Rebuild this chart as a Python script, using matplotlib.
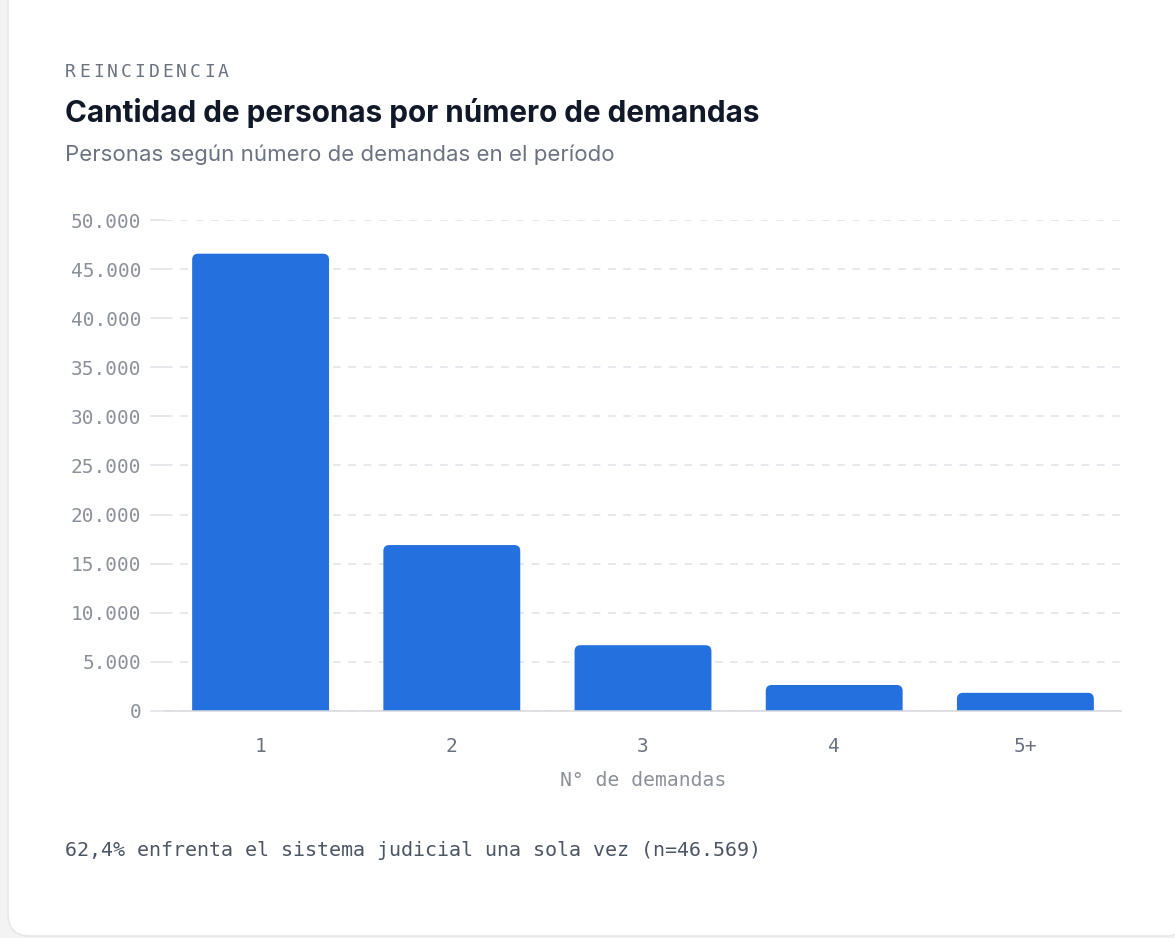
import matplotlib.pyplot as plt
from matplotlib.patches import FancyBboxPatch

# Data
categories = ['1', '2', '3', '4', '5+']
personas = [46569, 16900, 6700, 2650, 1850]
y_ticks = list(range(0, 50001, 5000))

eyebrow = 'REINCIDENCIA'
title = 'Cantidad de personas por número de demandas'
subtitle = 'Personas según número de demandas en el período'
x_label = 'N° de demandas'
footer = '62,4% enfrenta el sistema judicial una sola vez (n=46.569)'

W, H = 1175, 938
DPI = 100
BAR_COLOR = '#2570df'
MONO = 'DejaVu Sans Mono'
SANS = ['Inter', 'DejaVu Sans']

fig = plt.figure(figsize=(W / DPI, H / DPI), dpi=DPI)
fig.patch.set_facecolor('#f3f3f4')


def px(x, y):
    # pixel coords (top-left origin) -> figure fraction
    return x / W, 1 - y / H


def spaced_text(x, y, s, step, **kw):
    # monospace text with letter spacing, one char at a time
    for i, ch in enumerate(s):
        fx, fy = px(x + i * step, y)
        fig.text(fx, fy, ch, ha='left', **kw)


# Card (behind the axes)
card = FancyBboxPatch((8 / DPI, 2 / DPI), 1180 / DPI, 980 / DPI,
                      boxstyle='round,pad=0,rounding_size=0.22',
                      transform=fig.dpi_scale_trans,
                      facecolor='white', edgecolor='#e6e7ea', linewidth=1.2,
                      zorder=-10)
fig.patches.append(card)

# Header texts
spaced_text(65, 77, eyebrow, 13.9, fontsize=13, family=MONO,
            color='#6b7280', va='baseline')
fig.text(*px(65, 122), title, fontsize=21.4, fontweight='bold', family=SANS,
         color='#111827', va='baseline')
fig.text(*px(65, 161), subtitle, fontsize=16, family=SANS,
         color='#6b7280', va='baseline')

# Axes
left, right, top, bottom = 165, 1121, 220, 711
ax = fig.add_axes([left / W, 1 - bottom / H, (right - left) / W, (bottom - top) / H])
ax.set_facecolor('none')
n = len(categories)
ax.set_xlim(-0.5, n - 0.5)
ax.set_ylim(0, 50000)

# rounded-top bars
bar_w = 0.716
x_unit = (right - left) / n          # px per category
y_unit = (bottom - top) / 50000      # px per person
r_px = 6
for i, v in enumerate(personas):
    x0 = i - bar_w / 2
    ext = 1500
    patch = FancyBboxPatch((x0, -ext), bar_w, v + ext,
                           boxstyle='round,pad=0,rounding_size=%f' % (r_px / x_unit),
                           mutation_aspect=x_unit / y_unit,
                           facecolor=BAR_COLOR, edgecolor='none', zorder=3)
    ax.add_patch(patch)

ax.set_yticks(y_ticks)
ax.set_yticklabels([f'{t:,}'.replace(',', '.') for t in y_ticks])
ax.set_xticks(range(n))
ax.set_xticklabels(categories)

ax.grid(axis='y', color='#dfe1e5', linestyle=(0, (5, 5)), linewidth=1.1, zorder=0)
ax.grid(axis='x', visible=False)
for s in ['top', 'right', 'left']:
    ax.spines[s].set_visible(False)
ax.spines['bottom'].set_color('#d6d8dc')
ax.spines['bottom'].set_linewidth(1.1)
ax.spines['bottom'].set_zorder(4)

ax.tick_params(axis='y', length=11, width=1.1, color='#dfe1e5', pad=6,
               labelsize=14, labelcolor='#8b9099')
ax.tick_params(axis='x', length=0, pad=19, labelsize=14, labelcolor='#6b7280')
for lab in ax.get_yticklabels() + ax.get_xticklabels():
    lab.set_family(MONO)

fig.text(*px(643, 781), x_label, fontsize=14.2, family=MONO,
         color='#8b9099', ha='center', va='center')

# Footer
fig.text(*px(65, 856), footer, fontsize=14.4, family=MONO,
         color='#4b5563', va='baseline')

fig.savefig('out.png', dpi=DPI, facecolor=fig.get_facecolor())
